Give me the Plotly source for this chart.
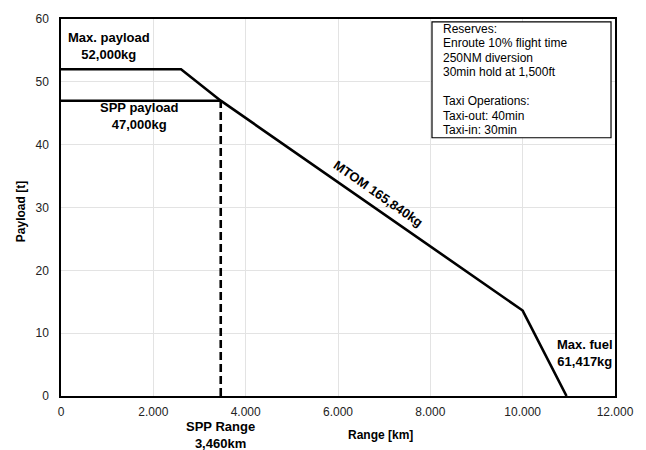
import plotly.graph_objects as go

# Payload-range envelope (range in km, payload in tonnes)
range_km = [0, 2600, 3460, 10000, 10950]
payload_t = [52, 52, 47, 13.6, 0]

# Design point (SPP)
spp_range_km = 3460
spp_payload_t = 47

x_ticks = [0, 2000, 4000, 6000, 8000, 10000, 12000]
y_ticks = [0, 10, 20, 30, 40, 50, 60]

notes = [
    "Reserves:",
    "Enroute 10% flight time",
    "250NM diversion",
    "30min hold at 1,500ft",
    "",
    "Taxi Operations:",
    "Taxi-out: 40min",
    "Taxi-in: 30min",
]

FONT = "Arial, 'Liberation Sans', sans-serif"
BLACK = "#000000"

# plot-area geometry in pixels, used for paper-referenced labels
L, R, T, B = 61, 618, 15, 396
W, H = R - L, B - T

fig = go.Figure()

# Main envelope
fig.add_trace(go.Scatter(
    x=range_km, y=payload_t, mode="lines",
    line=dict(color=BLACK, width=2.6), showlegend=False, hoverinfo="skip",
))
# SPP payload line
fig.add_trace(go.Scatter(
    x=[0, spp_range_km], y=[spp_payload_t, spp_payload_t], mode="lines",
    line=dict(color=BLACK, width=2.6), showlegend=False, hoverinfo="skip",
))
# SPP range drop line
fig.add_trace(go.Scatter(
    x=[spp_range_km, spp_range_km], y=[0, spp_payload_t], mode="lines",
    line=dict(color=BLACK, width=2.6, dash="8px,4px"), showlegend=False, hoverinfo="skip",
))

bold = dict(family=FONT, size=13, color=BLACK)
annotations = [
    dict(x=1030, y=55.7, text="<b>Max. payload<br>52,000kg</b>"),
    dict(x=1700, y=44.5, text="<b>SPP payload<br>47,000kg</b>"),
    dict(x=11350, y=6.8, text="<b>Max. fuel<br>61,417kg</b>"),
    dict(x=6870, y=32.3, text="<b>MTOM 165,840kg</b>", textangle=35),
]
for a in annotations:
    fig.add_annotation(xref="x", yref="y", showarrow=False, font=bold,
                       xanchor="center", yanchor="middle", **a)

# SPP range label below the axis
fig.add_annotation(xref="x", yref="paper", x=spp_range_km, y=(B - 435) / H,
                   text="<b>SPP Range<br>3,460km</b>", showarrow=False, font=bold,
                   xanchor="center", yanchor="middle")

# Axis titles
fig.add_annotation(xref="paper", yref="paper", x=(382 - L) / W, y=(B - 435) / H,
                   text="<b>Range [km]</b>", showarrow=False,
                   font=dict(family=FONT, size=12, color=BLACK),
                   xanchor="center", yanchor="middle")
fig.add_annotation(xref="paper", yref="paper", x=(21 - L) / W, y=(B - 210) / H,
                   text="<b>Payload [t]</b>", showarrow=False, textangle=-90,
                   font=dict(family=FONT, size=12, color=BLACK),
                   xanchor="center", yanchor="middle")

# Notes box
fig.add_shape(type="rect", xref="paper", yref="paper",
              x0=(434 - L) / W, x1=(614 - L) / W,
              y0=(B - 135) / H, y1=(B - 18) / H,
              line=dict(color=BLACK, width=1.2), fillcolor="white", layer="above")
for i, line in enumerate(notes):
    if not line:
        continue
    yc = 25 + i * 14.6
    fig.add_annotation(xref="paper", yref="paper", x=(443 - L) / W, y=(B - yc) / H,
                       text=line, showarrow=False, xanchor="left", yanchor="middle",
                       font=dict(family=FONT, size=12, color=BLACK))

fig.update_layout(
    width=646, height=450,
    margin=dict(l=L, r=646 - R, t=T, b=450 - B),
    paper_bgcolor="white", plot_bgcolor="white",
    separators=",.",
    font=dict(family=FONT, size=12, color="#222222"),
    showlegend=False,
)
fig.update_xaxes(
    range=[0, 12000], tickvals=x_ticks, tickformat=",d",
    showgrid=True, gridcolor="#e3e3e3", gridwidth=1,
    showline=True, linecolor=BLACK, linewidth=1.5, mirror=True,
    ticks="outside", ticklen=4, tickcolor="rgba(0,0,0,0)",
    zeroline=False, tickfont=dict(family=FONT, size=12, color="#222222"),
)
fig.update_yaxes(
    range=[0, 60], tickvals=y_ticks,
    showgrid=True, gridcolor="#e3e3e3", gridwidth=1,
    showline=True, linecolor=BLACK, linewidth=1.5, mirror=True,
    ticks="outside", ticklen=8, tickcolor="rgba(0,0,0,0)",
    zeroline=False, tickfont=dict(family=FONT, size=12, color="#222222"),
)

fig.write_html("out.html")
